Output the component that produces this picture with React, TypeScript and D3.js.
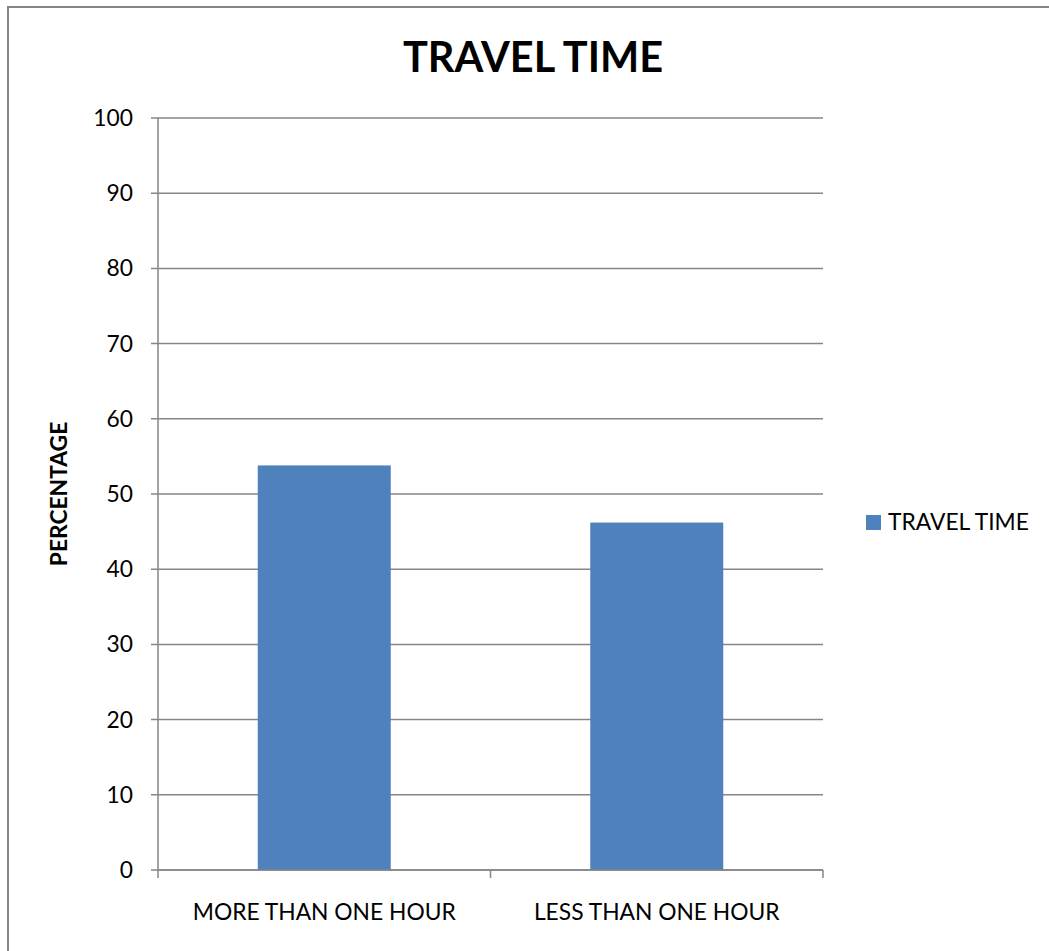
import React from "react";
import * as d3 from "d3";

const categories = ["MORE THAN ONE HOUR", "LESS THAN ONE HOUR"];
const values = [53.8, 46.2];
const yTicks = [0, 10, 20, 30, 40, 50, 60, 70, 80, 90, 100];
const seriesName = "TRAVEL TIME";
const chartTitle = "TRAVEL TIME";
const yAxisTitle = "PERCENTAGE";

const W = 1049;
const H = 951;
const plot = { left: 158, right: 823, top: 118, bottom: 870 };
const FONT = "Lato, 'Open Sans', sans-serif";
const GRID = "#868686";
const BAR = "#4F81BD";
const FS = 22.8;

export default function App() {
  const x = d3
    .scaleBand<string>()
    .domain(categories)
    .range([plot.left, plot.right])
    .paddingInner(0.6)
    .paddingOuter(0.3);
  const xBand = d3.scaleBand<string>().domain(categories).range([plot.left, plot.right]);
  const y = d3.scaleLinear().domain([0, 100]).range([plot.bottom, plot.top]);

  return (
    <svg
      width={W}
      height={H}
      style={{ position: "absolute", left: 0, top: 0, background: "#fff" }}
      fontFamily={FONT}
    >
      {/* outer frame */}
      <rect x={8} y={7} width={W + 20} height={H + 20} fill="none" stroke={GRID} strokeWidth={2} />

      <text x={533} y={72} textAnchor="middle" fontSize={41.5} fontWeight="bold" fill="#000">
        {chartTitle}
      </text>

      {/* gridlines and y ticks */}
      {yTicks.map((t) => (
        <g key={t}>
          <line x1={plot.left - 7} x2={plot.right} y1={y(t)} y2={y(t)} stroke={GRID} strokeWidth={1.5} />
          <text x={133} y={y(t)} dy="0.35em" textAnchor="end" fontSize={FS} fill="#000">
            {t}
          </text>
        </g>
      ))}

      {/* bars */}
      {categories.map((c, i) => (
        <rect key={c} x={x(c)} y={y(values[i])} width={x.bandwidth()} height={y(0) - y(values[i])} fill={BAR} />
      ))}

      {/* y axis */}
      <line x1={plot.left} x2={plot.left} y1={plot.top} y2={plot.bottom} stroke={GRID} strokeWidth={1.5} />
      {/* x axis ticks */}
      {[plot.left, ...categories.map((c) => (xBand(c) as number) + xBand.bandwidth())].map((px, i) => (
        <line key={i} x1={px} x2={px} y1={plot.bottom} y2={plot.bottom + 8} stroke={GRID} strokeWidth={1.5} />
      ))}
      <line x1={plot.left} x2={plot.right} y1={plot.bottom} y2={plot.bottom} stroke={GRID} strokeWidth={1.5} />

      {categories.map((c) => (
        <text
          key={c}
          x={(xBand(c) as number) + xBand.bandwidth() / 2}
          y={920}
          textAnchor="middle"
          fontSize={FS}
          fill="#000"
        >
          {c}
        </text>
      ))}

      <text
        transform={`translate(67, ${(plot.top + plot.bottom) / 2}) rotate(-90)`}
        textAnchor="middle"
        fontSize={FS}
        fontWeight="bold"
        fill="#000"
      >
        {yAxisTitle}
      </text>

      {/* legend */}
      <rect x={866} y={515} width={15} height={15} fill={BAR} />
      <text x={888} y={522.5} dy="0.35em" fontSize={FS} fill="#000">
        {seriesName}
      </text>
    </svg>
  );
}
